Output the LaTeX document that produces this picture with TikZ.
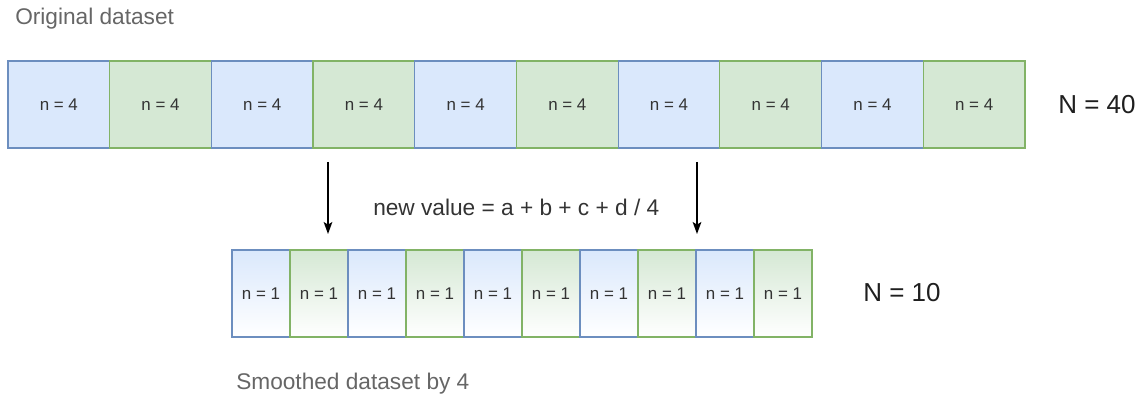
\documentclass[tikz,border=0pt]{standalone}
\usepackage{fontspec}
\setmainfont{Liberation Sans}
\usetikzlibrary{arrows.meta}

\definecolor{bluefill}{HTML}{DAE8FC}
\definecolor{blueline}{HTML}{6C8EBF}
\definecolor{greenfill}{HTML}{D5E8D4}
\definecolor{greenline}{HTML}{82B366}
\definecolor{celltext}{HTML}{333333}
\definecolor{captext}{HTML}{666666}

\begin{document}
\begin{tikzpicture}[x=0.75pt,y=-0.75pt,
    cell/.style={draw=#1line, line width=0.9pt, outer sep=0pt, inner sep=0pt,
        text=celltext, font=\fontsize{12.7}{15}\selectfont},
    big cell/.style={cell=#1, fill=#1fill, minimum width=76.3pt, minimum height=65.25pt},
    small cell/.style={cell=#1, top color=#1fill, bottom color=white,
        minimum width=43.5pt, minimum height=65.25pt},
    caption/.style={anchor=base west, inner sep=0pt, text=captext,
        font=\fontsize{17}{20}\selectfont},
    total/.style={anchor=base west, inner sep=0pt, text=black!88,
        font=\fontsize{19.5}{23}\selectfont}]
    \useasboundingbox (0,0) rectangle (1141,398);

    \node[caption] (orig) at (15,25) {Original dataset};
    \foreach \i in {1,...,10} {
        \ifodd\i \def\c{blue}\else\def\c{green}\fi
        \node[big cell=\c] (t\i) at ({8+101.7*(\i-0.5)},104.5) {n = 4};
    }
    \node[total] (bigN) at (1058,113.3) {N = 40};

    \coordinate (a1) at (328,162);
    \coordinate (b1) at (328,234);
    \coordinate (a2) at (697,162);
    \coordinate (b2) at (697,234);
    \draw[line width=1.1pt, -{Stealth[length=9pt,width=6.5pt,inset=2pt]}] (a1) -- (b1);
    \draw[line width=1.1pt, -{Stealth[length=9pt,width=6.5pt,inset=2pt]}] (a2) -- (b2);
    \node[caption, text=celltext] (rule) at (373,215.5) {new value = a + b + c + d / 4};

    \foreach \i in {1,...,10} {
        \ifodd\i \def\c{blue}\else\def\c{green}\fi
        \node[small cell=\c] (s\i) at ({232+58*(\i-0.5)},293.5) {n = 1};
    }
    \node[total] (smallN) at (863,301.7) {N = 10};
    \node[caption] (smooth) at (236,390) {Smoothed dataset by 4};
\end{tikzpicture}
\end{document}
